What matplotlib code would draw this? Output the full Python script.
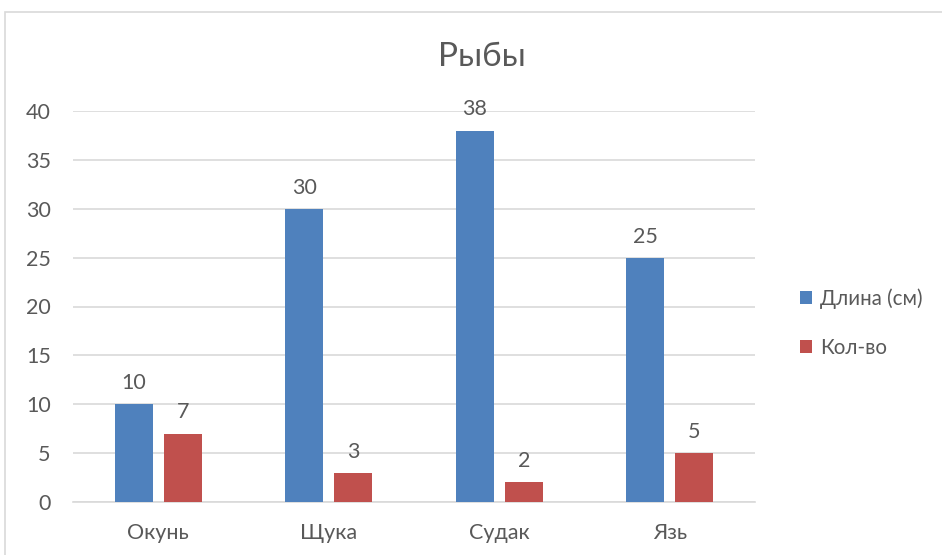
import matplotlib
matplotlib.use("Agg")
import matplotlib.pyplot as plt
import numpy as np
from matplotlib.patches import Rectangle

categories = ["Окунь", "Щука", "Судак", "Язь"]
length_cm = [10, 30, 38, 25]
count = [7, 3, 2, 5]
series_names = ["Длина (см)", "Кол-во"]
yticks = [0, 5, 10, 15, 20, 25, 30, 35, 40]

plt.rcParams['font.family'] = ['Lato', 'DejaVu Sans']
text_color = "#595959"
blue = "#4F81BD"
red = "#C0504D"

fig = plt.figure(figsize=(9.42, 5.55), dpi=100)
ax = fig.add_axes([73/942, 1-502/555, (755-73)/942, (502-111)/555])

# chart border
fig.patches.append(Rectangle((5/942, -0.1), 1.2, 1.1 - 12/555, transform=fig.transFigure,
                             fill=False, edgecolor="#D9D9D9", linewidth=1.2))

x = np.arange(len(categories))
w = 0.223
gap = 0.065
b1 = ax.bar(x - (w+gap)/2, length_cm, w, color=blue, label=series_names[0], zorder=3)
b2 = ax.bar(x + (w+gap)/2, count, w, color=red, label=series_names[1], zorder=3)

for bars, vals in ((b1, length_cm), (b2, count)):
    for r, v in zip(bars, vals):
        ax.annotate(str(v), (r.get_x() + r.get_width()/2, v), xytext=(0, 8),
                    textcoords="offset points", ha="center", va="bottom",
                    fontsize=15.5, color=text_color)

ax.set_xlim(-0.5, len(categories) - 0.5)
ax.set_ylim(0, 40)
ax.set_yticks(yticks)
ax.set_xticks(x)
ax.set_xticklabels(categories)
ax.tick_params(axis='both', length=0, labelsize=15.5, labelcolor=text_color)
ax.tick_params(axis='y', pad=16)
ax.tick_params(axis='x', pad=15)
ax.yaxis.grid(True, color="#D9D9D9", linewidth=1.2, zorder=0)
for s in ("top", "right", "left"):
    ax.spines[s].set_visible(False)
ax.spines["bottom"].set_color("#D9D9D9")
ax.spines["bottom"].set_linewidth(1.2)
ax.set_axisbelow(True)

fig.text(482/942, 1-57/555, "Рыбы", ha="center", va="center", fontsize=24, color=text_color)

leg = fig.legend(handles=[b1, b2], labels=series_names, loc="center left",
                 bbox_to_anchor=(781/942, 1-323/555), frameon=False,
                 fontsize=14.8, labelcolor=text_color, handlelength=0.6, handleheight=0.6,
                 handletextpad=0.4, labelspacing=1.4)

fig.savefig("out.png", dpi=100)
